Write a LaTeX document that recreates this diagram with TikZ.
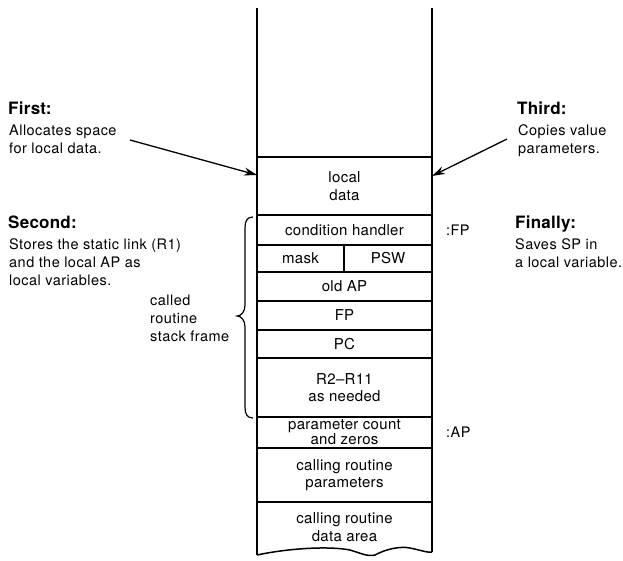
\documentclass[tikz,border=0pt]{standalone}
\usepackage{fontspec}
\setmainfont{TeX Gyre Heros}
\usetikzlibrary{arrows.meta}
\begin{document}
\begin{tikzpicture}[x=1pt,y=-1pt,
  head/.style={anchor=base west,inner sep=0pt,font=\fontsize{17}{20}\selectfont\bfseries\addfontfeatures{LetterSpace=1.5}},
  note/.style={anchor=base west,inner sep=0pt,font=\fontsize{14.5}{18}\selectfont\addfontfeatures{LetterSpace=3.2}},
  cell/.style={draw,line width=1.3pt,minimum width=175pt,inner sep=0pt,align=center,
    font=\fontsize{15}{17.5}\selectfont\addfontfeatures{LetterSpace=2}},
  tag/.style={anchor=west,inner sep=0pt,font=\fontsize{14.5}{18}\selectfont\addfontfeatures{LetterSpace=3}},
  wall/.style={line width=1.9pt},
  pointer/.style={line width=1.3pt,-{Stealth[length=13pt,width=8pt]}}]
\useasboundingbox[fill=white] (0,0) rectangle (623,560);

% stack cells, top to bottom
\node[cell,minimum height=58pt] (localdata) at (344.5,186) {local\\data};
\node[cell,minimum height=30pt] (condh) at (344.5,230) {condition handler};
\node[cell,minimum width=87pt,minimum height=27pt] (mask) at (300.5,258.5) {mask};
\node[cell,minimum width=88pt,minimum height=27pt] (psw) at (388,258.5) {PSW};
\node[cell,minimum height=29pt] (oldap) at (344.5,286.5) {old AP};
\node[cell,minimum height=29pt] (fp) at (344.5,315.5) {FP};
\node[cell,minimum height=28pt] (pc) at (344.5,344) {PC};
\node[cell,minimum height=59pt] (regs) at (344.5,387.5) {R2--R11\\as needed};
\node[cell,minimum height=31pt,font=\fontsize{15}{15}\selectfont\addfontfeatures{LetterSpace=2}] (pcount) at (344.5,432.5) {parameter count\\and zeros};
\node[cell,minimum height=54pt] (callparams) at (344.5,475) {calling routine\\parameters};
\node[cell,draw=none,minimum height=50pt] (calldata) at (344.5,527) {calling routine\\data area};

% outer walls of the stack with a torn bottom edge
\coordinate (wallLtop) at (257,8);
\coordinate (wallRtop) at (432,8);
\coordinate (wallLbot) at (257,555);
\coordinate (wallRbot) at (432,552);
\draw[wall] (wallLtop) -- (wallLbot);
\draw[wall] (wallRtop) -- (wallRbot);
\draw[line width=1.5pt] (wallLbot) .. controls (290,548) and (330,546) .. (350,550)
  .. controls (360,553) and (368,557) .. (375,555)
  .. controls (386,549) and (400,546) .. (410,548)
  .. controls (420,550) and (428,553) .. (wallRbot);

% register markers
\node[tag] (fptag) at (446,230) {:FP};
\node[tag] (aptag) at (446,432) {:AP};

% left notes
\node[head] (first) at (8,114) {First:};
\node[note] (first1) at (9,135) {Allocates space};
\node[note] (first2) at (9,153) {for local data.};
\node[head] (second) at (8,228) {Second:};
\node[note] (second1) at (9,249) {Stores the static link (R1)};
\node[note] (second2) at (9,267) {and the local AP as};
\node[note] (second3) at (9,285) {local variables.};

% right notes
\node[head] (third) at (517,114) {Third:};
\node[note] (third1) at (518,135) {Copies value};
\node[note] (third2) at (518,153) {parameters.};
\node[head] (finally) at (515,228) {Finally:};
\node[note] (finally1) at (515,249) {Saves SP in};
\node[note] (finally2) at (515,267) {a local variable.};

% frame brace and its label
\draw[line width=1.2pt] (253,217) .. controls (247,217) and (245,221) .. (245,228)
  -- (245,305) .. controls (245,312) and (241,316) .. (237,316)
  .. controls (241,316) and (245,320) .. (245,327)
  -- (245,407) .. controls (245,414) and (247,418) .. (253,418);
\node[note] (frame1) at (150,305) {called};
\node[note] (frame2) at (150,323) {routine};
\node[note] (frame3) at (150,341) {stack frame};

% pointers onto the stack walls
\coordinate (firstFrom) at (130,140);
\coordinate (firstTo) at (257,175);
\coordinate (thirdFrom) at (507,139);
\coordinate (thirdTo) at (432,176);
\draw[pointer] (firstFrom) -- (firstTo);
\draw[pointer] (thirdFrom) -- (thirdTo);
\end{tikzpicture}
\end{document}
